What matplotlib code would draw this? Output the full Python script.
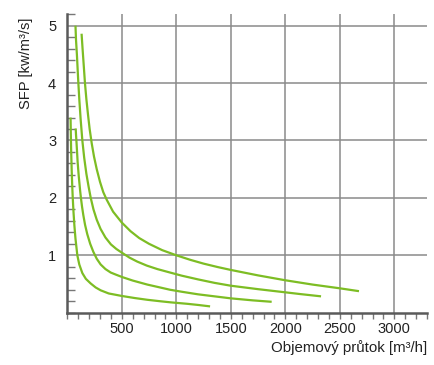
import matplotlib
matplotlib.use("Agg")
import matplotlib.pyplot as plt
from matplotlib.ticker import MultipleLocator, FixedLocator

plt.rcParams['font.family'] = ['Liberation Sans', 'DejaVu Sans']

# Data (flow m3/h, SFP)
c1_q = [30, 32, 35, 40, 45, 50, 57, 65, 75, 92, 110, 138, 170, 214, 260, 306, 380, 505,
        620, 734, 850, 950, 1100, 1200, 1310]
c1_s = [3.40, 3.15, 2.85, 2.5, 2.22, 2.0, 1.75, 1.52, 1.29, 1.0, 0.84, 0.69, 0.59, 0.51,
        0.44, 0.39, 0.335, 0.29, 0.255, 0.225, 0.20, 0.18, 0.155, 0.135, 0.11]

c2_q = [77, 80, 85, 95, 105, 118, 125, 135, 147, 163, 183, 210, 239, 270, 306, 350, 398,
        450, 505, 600, 734, 850, 942, 1050, 1200, 1350, 1500, 1700, 1875]
c2_s = [3.21, 3.1, 2.95, 2.62, 2.38, 2.12, 2.0, 1.85, 1.70, 1.53, 1.37, 1.2, 1.06, 0.94,
        0.84, 0.76, 0.70, 0.66, 0.62, 0.56, 0.49, 0.44, 0.40, 0.365, 0.32, 0.285, 0.25,
        0.215, 0.19]

c3_q = [75, 80, 88, 100, 110, 122, 138, 155, 175, 195, 215, 240, 270, 305, 350, 400, 450,
        505, 570, 642, 730, 826, 942, 1050, 1200, 1350, 1500, 1750, 2000, 2135, 2328]
c3_s = [5.0, 4.75, 4.5, 4.05, 3.72, 3.38, 3.0, 2.7, 2.42, 2.2, 2.0, 1.8, 1.62, 1.46, 1.31,
        1.19, 1.11, 1.04, 0.96, 0.89, 0.82, 0.76, 0.70, 0.645, 0.58, 0.52, 0.47, 0.41,
        0.355, 0.325, 0.285]

c4_q = [131, 140, 150, 162, 175, 190, 205, 224, 245, 270, 300, 330, 361, 420, 500, 580,
        660, 750, 870, 1000, 1130, 1250, 1380, 1500, 1750, 2000, 2250, 2500, 2676]
c4_s = [4.86, 4.6, 4.33, 4.0, 3.72, 3.45, 3.2, 2.95, 2.72, 2.5, 2.28, 2.1, 1.97, 1.76,
        1.57, 1.42, 1.30, 1.2, 1.09, 1.0, 0.92, 0.855, 0.795, 0.745, 0.65, 0.565, 0.49,
        0.425, 0.375]

x_major = [500, 1000, 1500, 2000, 2500, 3000]
y_major = [1, 2, 3, 4, 5]

green = '#7dbd24'

fig = plt.figure(figsize=(4.34, 3.65), dpi=100)
ax = fig.add_axes([67.3/434, 1-312.7/365, (427-67.3)/434, (312.7-14.2)/365])

for q, s in [(c1_q, c1_s), (c2_q, c2_s), (c3_q, c3_s), (c4_q, c4_s)]:
    ax.plot(q, s, color=green, lw=1.6, solid_capstyle='butt', solid_joinstyle='round',
            zorder=3)

ax.set_xlim(0, 3300)
ax.set_ylim(0, 5.2)

ax.xaxis.set_major_locator(FixedLocator(x_major))
ax.yaxis.set_major_locator(FixedLocator(y_major))
ax.xaxis.set_minor_locator(MultipleLocator(100))
ax.yaxis.set_minor_locator(MultipleLocator(0.2))

ax.set_xticklabels([str(v) for v in x_major])
ax.set_yticklabels([str(v) for v in y_major])

ax.grid(True, which='major', color='#8a8a8a', lw=1.1)
ax.set_axisbelow(True)

for s in ['top', 'right']:
    ax.spines[s].set_visible(False)
ax.spines['left'].set_color('#5a5a5a')
ax.spines['left'].set_linewidth(1.8)
ax.spines['bottom'].set_color('#5a5a5a')
ax.spines['bottom'].set_linewidth(1.8)

ax.tick_params(axis='x', which='both', direction='out', length=4, width=1, color='#777777',
               labelsize=10.5, pad=3, labelcolor='#222222')
ax.tick_params(axis='y', which='minor', direction='in', length=6, width=1, color='#777777')
ax.tick_params(axis='y', which='major', direction='in', length=0, labelsize=10.5, pad=8,
               labelcolor='#222222')

fig.text(26/434, 1-18/365, 'SFP [kw/m³/s]', rotation=90, ha='center', va='top',
         fontsize=10.6, color='#222222')
fig.text(427/434, 1-348/365, 'Objemový průtok [m³/h]', ha='right', va='center',
         fontsize=10.8, color='#222222')

fig.savefig('out.png', dpi=100)
